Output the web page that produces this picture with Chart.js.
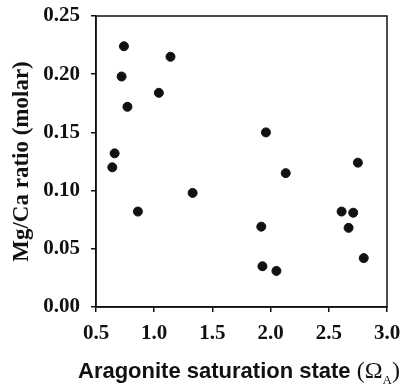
<!DOCTYPE html>
<html>
<head>
<meta charset="utf-8">
<script src="https://cdn.jsdelivr.net/npm/chart.js@4"></script>
<style>
  body { margin: 0; background: #fff; }
  #wrap { position: relative; width: 407px; height: 388px; }
  #xTitle {
    position: absolute; left: 78px; top: 357px; white-space: nowrap;
    font-family: "Liberation Sans", Arial, sans-serif; font-weight: bold; font-size: 22px; color: #111;
  }
  #xTitle .sym { font-family: "Liberation Serif", "Times New Roman", serif; font-weight: normal; font-size: 24px; }
  #xTitle sub { font-size: 13px; vertical-align: -6px; }
</style>
</head>
<body>
<div id="wrap">
  <canvas id="chart" width="407" height="388"></canvas>
  <div id="xTitle">Aragonite saturation state <span class="sym">(Ω<sub>A</sub>)</span></div>
</div>
<script>
// Aragonite saturation state (x) vs Mg/Ca ratio (y)
const omegaA = [0.64, 0.66, 0.72, 0.74, 0.77, 0.86, 1.04, 1.14, 1.33,
                1.92, 1.93, 1.96, 2.05, 2.13,
                2.61, 2.67, 2.71, 2.75, 2.80];
const mgCa = [0.120, 0.132, 0.198, 0.224, 0.172, 0.082, 0.184, 0.215, 0.098,
              0.069, 0.035, 0.150, 0.031, 0.115,
              0.082, 0.068, 0.081, 0.124, 0.042];
const xTicks = [0.5, 1.0, 1.5, 2.0, 2.5, 3.0];
const yTicks = [0.00, 0.05, 0.10, 0.15, 0.20, 0.25];

const points = omegaA.map((x, i) => ({ x: x, y: mgCa[i] }));

const tickFont = { family: '"Liberation Serif", "Times New Roman", serif', weight: 'bold', size: 21 };

// draws the closed box round the plot area
const frame = {
    id: 'frame',
    afterDraw(chart) {
        const a = chart.chartArea;
        const ctx = chart.ctx;
        ctx.save();
        ctx.strokeStyle = '#111';
        ctx.lineWidth = 1.5;
        ctx.strokeRect(a.left, a.top, a.right - a.left, a.bottom - a.top);
        ctx.restore();
    }
};

new Chart(document.getElementById('chart'), {
    type: 'scatter',
    data: {
        datasets: [{
            data: points,
            backgroundColor: '#111',
            borderColor: '#111',
            pointRadius: 4.5,
            pointHoverRadius: 4.5
        }]
    },
    options: {
        responsive: false,
        animation: false,
        layout: { padding: { top: 16, right: 20, left: 0, bottom: 0 } },
        plugins: { legend: { display: false }, tooltip: { enabled: false } },
        scales: {
            x: {
                type: 'linear',
                min: xTicks[0],
                max: xTicks[xTicks.length - 1],
                afterBuildTicks: s => { s.ticks = xTicks.map(v => ({ value: v })); },
                afterFit: s => { s.height = 81; s.paddingLeft = 0; s.paddingRight = 0; },
                grid: { drawOnChartArea: false, drawTicks: true, tickLength: 5, color: '#111', lineWidth: 1.5 },
                border: { color: '#111', width: 1.5 },
                ticks: {
                    color: '#111', font: tickFont, padding: 9, maxRotation: 0,
                    callback: v => Number(v).toFixed(1)
                }
            },
            y: {
                min: yTicks[0],
                max: yTicks[yTicks.length - 1],
                afterBuildTicks: s => { s.ticks = yTicks.map(v => ({ value: v })); },
                afterFit: s => { s.width = 96; s.paddingTop = 0; s.paddingBottom = 0; },
                grid: { drawOnChartArea: false, drawTicks: true, tickLength: 5, color: '#111', lineWidth: 1.5 },
                border: { color: '#111', width: 1.5 },
                ticks: {
                    color: '#111', font: tickFont, padding: 11,
                    callback: v => Number(v).toFixed(2)
                },
                title: {
                    display: true,
                    text: 'Mg/Ca ratio (molar)',
                    color: '#111',
                    font: { family: '"Liberation Serif", "Times New Roman", serif', weight: 'bold', size: 23 },
                    padding: { top: 8, bottom: 0 }
                }
            }
        }
    },
    plugins: [frame]
});
</script>
</body>
</html>
